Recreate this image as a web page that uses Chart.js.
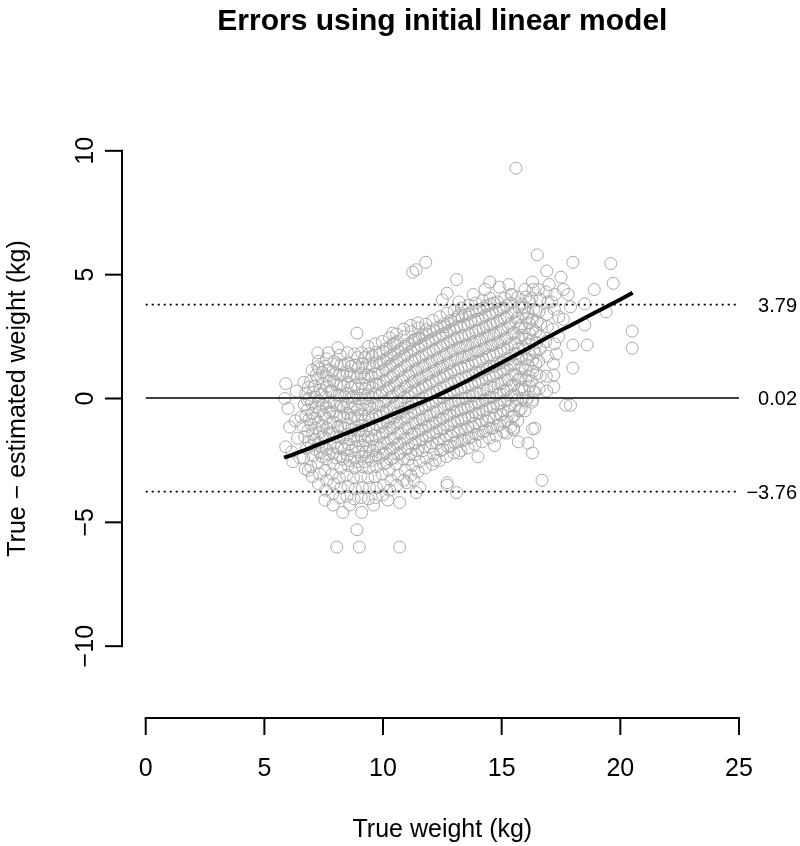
<!DOCTYPE html>
<html><head><meta charset="utf-8">
<script src="https://cdn.jsdelivr.net/npm/chart.js@4.4.1/dist/chart.umd.min.js"></script>
<style>html,body{margin:0;padding:0;background:#fff}canvas{display:block}</style>
</head><body>
<canvas id="c" width="800" height="846"></canvas>
<script>
const titleText = "Errors using initial linear model";
const xLabel = "True weight (kg)";
const yLabel = "True \u2212 estimated weight (kg)";
const xTicks = [0, 5, 10, 15, 20, 25];
const yTicks = [-10, -5, 0, 5, 10];
const refValues = [3.79, 0.02, -3.76];
const refLabels = ["3.79", "0.02", "\u22123.76"];
const refRange = [0, 25];
const loessX = [5.83, 7, 8, 9, 10, 11, 12, 13, 14, 15, 16, 17, 18, 19, 20, 20.52];
const loessY = [-2.39, -1.97, -1.58, -1.2, -0.8, -0.4, 0.0, 0.45, 0.95, 1.45, 1.97, 2.5, 3.0, 3.5, 4.0, 4.27];

// [true weight, error] — body of the cloud
const corePoints = [
[6.72,-2.85],[6.65,-2.4],[6.78,-2.0],[6.7,-1.55],[6.62,-1.1],[6.75,-0.7],[6.68,-0.25],[6.74,0.2],[6.66,0.65],
[7.02,-3.15],[6.96,-2.75],[7.05,-2.3],[6.98,-1.9],[7.04,-1.45],[6.97,-1.05],[7.03,-0.6],[6.99,-0.2],[7.06,0.25],[6.95,0.7],[7.01,1.15],
[7.28,-3.45],[7.33,-3.05],[7.26,-2.6],[7.35,-2.2],[7.29,-1.8],[7.32,-1.35],[7.27,-0.95],[7.34,-0.5],[7.3,-0.1],[7.36,0.35],[7.25,0.8],[7.31,1.2],[7.28,1.5],
[7.58,-3.7],[7.63,-3.3],[7.55,-2.9],[7.62,-2.45],[7.6,-2.05],[7.57,-1.6],[7.64,-1.2],[7.59,-0.8],[7.61,-0.35],[7.56,0.05],[7.65,0.5],[7.6,0.9],[7.57,1.3],[7.62,1.6],
[7.88,-3.85],[7.93,-3.45],[7.86,-3.05],[7.92,-2.65],[7.9,-2.2],[7.95,-1.8],[7.87,-1.4],[7.91,-0.95],[7.89,-0.55],[7.94,-0.15],[7.86,0.3],[7.92,0.7],[7.88,1.1],[7.93,1.5],
[8.18,-4.0],[8.23,-3.6],[8.16,-3.2],[8.22,-2.8],[8.2,-2.35],[8.25,-1.95],[8.17,-1.55],[8.21,-1.1],[8.19,-0.7],[8.24,-0.3],[8.16,0.15],[8.22,0.55],[8.18,0.95],[8.23,1.35],[8.2,1.75],
[8.48,-3.95],[8.53,-3.55],[8.46,-3.1],[8.52,-2.7],[8.5,-2.3],[8.55,-1.85],[8.47,-1.45],[8.51,-1.05],[8.49,-0.6],[8.54,-0.2],[8.46,0.2],[8.52,0.65],[8.48,1.05],[8.53,1.45],[8.5,1.85],
[8.78,-4.05],[8.83,-3.65],[8.76,-3.2],[8.82,-2.8],[8.8,-2.4],[8.85,-1.95],[8.77,-1.55],[8.81,-1.15],[8.79,-0.7],[8.84,-0.3],[8.76,0.1],[8.82,0.55],[8.78,0.95],[8.83,1.35],[8.8,1.8],
[9.08,-4.0],[9.13,-3.6],[9.06,-3.15],[9.12,-2.75],[9.1,-2.35],[9.15,-1.9],[9.07,-1.5],[9.11,-1.1],[9.09,-0.65],[9.14,-0.25],[9.06,0.15],[9.12,0.6],[9.08,1.0],[9.13,1.4],[9.1,1.85],
[9.38,-4.05],[9.43,-3.6],[9.36,-3.2],[9.42,-2.8],[9.4,-2.35],[9.45,-1.95],[9.37,-1.55],[9.41,-1.1],[9.39,-0.7],[9.44,-0.3],[9.36,0.15],[9.42,0.55],[9.38,0.95],[9.43,1.4],[9.4,1.8],[9.37,2.1],
[9.68,-4.0],[9.73,-3.6],[9.66,-3.15],[9.72,-2.75],[9.7,-2.3],[9.75,-1.9],[9.67,-1.5],[9.71,-1.05],[9.69,-0.65],[9.74,-0.25],[9.66,0.2],[9.72,0.6],[9.68,1.0],[9.73,1.45],[9.7,1.85],[9.67,2.2],
[9.98,-3.9],[10.03,-3.5],[9.96,-3.05],[10.02,-2.65],[10.0,-2.25],[10.05,-1.8],[9.97,-1.4],[10.01,-1.0],[9.99,-0.55],[10.04,-0.15],[9.96,0.25],[10.02,0.7],[9.98,1.1],[10.03,1.5],[10.0,1.9],[9.97,2.3],
[10.28,-3.7],[10.33,-3.3],[10.26,-2.9],[10.32,-2.45],[10.3,-2.05],[10.35,-1.65],[10.27,-1.2],[10.31,-0.8],[10.29,-0.4],[10.34,0.05],[10.26,0.45],[10.32,0.85],[10.28,1.3],[10.33,1.7],[10.3,2.1],[10.27,2.45],
[10.58,-3.5],[10.63,-3.1],[10.56,-2.65],[10.62,-2.25],[10.6,-1.85],[10.65,-1.4],[10.57,-1.0],[10.61,-0.6],[10.59,-0.15],[10.64,0.25],[10.56,0.65],[10.62,1.1],[10.58,1.5],[10.63,1.9],[10.6,2.3],[10.57,2.6],
[10.88,-3.3],[10.93,-2.9],[10.86,-2.45],[10.92,-2.05],[10.9,-1.65],[10.95,-1.2],[10.87,-0.8],[10.91,-0.4],[10.89,0.05],[10.94,0.45],[10.86,0.85],[10.92,1.3],[10.88,1.7],[10.93,2.1],[10.9,2.5],[10.87,2.8],
[11.18,-3.1],[11.23,-2.7],[11.16,-2.25],[11.22,-1.85],[11.2,-1.45],[11.25,-1.0],[11.17,-0.6],[11.21,-0.2],[11.19,0.25],[11.24,0.65],[11.16,1.05],[11.22,1.5],[11.18,1.9],[11.23,2.3],[11.2,2.7],[11.17,2.95],
[11.48,-2.95],[11.53,-2.55],[11.46,-2.1],[11.52,-1.7],[11.5,-1.3],[11.55,-0.85],[11.47,-0.45],[11.51,-0.05],[11.49,0.4],[11.54,0.8],[11.46,1.2],[11.52,1.65],[11.48,2.05],[11.53,2.45],[11.5,2.85],[11.47,3.05],
[11.78,-2.8],[11.83,-2.4],[11.76,-1.95],[11.82,-1.55],[11.8,-1.15],[11.85,-0.7],[11.77,-0.3],[11.81,0.1],[11.79,0.55],[11.84,0.95],[11.76,1.35],[11.82,1.8],[11.78,2.2],[11.83,2.6],[11.8,3.0],
[12.08,-2.65],[12.13,-2.25],[12.06,-1.8],[12.12,-1.4],[12.1,-1.0],[12.15,-0.55],[12.07,-0.15],[12.11,0.25],[12.09,0.7],[12.14,1.1],[12.06,1.5],[12.12,1.95],[12.08,2.35],[12.13,2.75],[12.1,3.15],
[12.38,-2.5],[12.43,-2.1],[12.36,-1.65],[12.42,-1.25],[12.4,-0.85],[12.45,-0.4],[12.37,0.0],[12.41,0.4],[12.39,0.85],[12.44,1.25],[12.36,1.65],[12.42,2.1],[12.38,2.5],[12.43,2.9],[12.4,3.3],
[12.68,-2.35],[12.73,-1.95],[12.66,-1.5],[12.72,-1.1],[12.7,-0.7],[12.75,-0.25],[12.67,0.15],[12.71,0.55],[12.69,1.0],[12.74,1.4],[12.66,1.8],[12.72,2.25],[12.68,2.65],[12.73,3.05],[12.7,3.45],
[12.98,-2.2],[13.03,-1.8],[12.96,-1.35],[13.02,-0.95],[13.0,-0.55],[13.05,-0.1],[12.97,0.3],[13.01,0.7],[12.99,1.15],[13.04,1.55],[12.96,1.95],[13.02,2.4],[12.98,2.8],[13.03,3.2],[13.0,3.55],
[13.28,-2.1],[13.33,-1.7],[13.26,-1.25],[13.32,-0.85],[13.3,-0.45],[13.35,0.0],[13.27,0.4],[13.31,0.8],[13.29,1.25],[13.34,1.65],[13.26,2.05],[13.32,2.5],[13.28,2.9],[13.33,3.3],[13.3,3.65],
[13.58,-2.0],[13.63,-1.6],[13.56,-1.15],[13.62,-0.75],[13.6,-0.35],[13.65,0.1],[13.57,0.5],[13.61,0.9],[13.59,1.35],[13.64,1.75],[13.56,2.15],[13.62,2.6],[13.58,3.0],[13.63,3.4],[13.6,3.75],
[13.88,-1.85],[13.93,-1.45],[13.86,-1.0],[13.92,-0.6],[13.9,-0.2],[13.95,0.25],[13.87,0.65],[13.91,1.05],[13.89,1.5],[13.94,1.9],[13.86,2.3],[13.92,2.75],[13.88,3.15],[13.93,3.55],[13.9,3.85],
[14.18,-1.75],[14.23,-1.35],[14.16,-0.9],[14.22,-0.5],[14.2,-0.1],[14.25,0.35],[14.17,0.75],[14.21,1.15],[14.19,1.6],[14.24,2.0],[14.16,2.4],[14.22,2.85],[14.18,3.25],[14.23,3.65],[14.2,3.95],
[14.48,-1.6],[14.53,-1.2],[14.46,-0.75],[14.52,-0.35],[14.5,0.05],[14.55,0.5],[14.47,0.9],[14.51,1.3],[14.49,1.75],[14.54,2.15],[14.46,2.55],[14.52,3.0],[14.48,3.4],[14.53,3.8],[14.5,4.05],
[14.78,-1.5],[14.83,-1.1],[14.76,-0.65],[14.82,-0.25],[14.8,0.15],[14.85,0.6],[14.77,1.0],[14.81,1.4],[14.79,1.85],[14.84,2.25],[14.76,2.65],[14.82,3.1],[14.78,3.5],[14.83,3.9],
[15.08,-1.35],[15.13,-0.95],[15.06,-0.5],[15.12,-0.1],[15.1,0.3],[15.15,0.75],[15.07,1.15],[15.11,1.55],[15.09,2.0],[15.14,2.4],[15.06,2.8],[15.12,3.25],[15.08,3.65],[15.13,4.05],
[15.38,-1.15],[15.43,-0.75],[15.36,-0.3],[15.42,0.1],[15.4,0.5],[15.45,0.95],[15.37,1.35],[15.41,1.75],[15.39,2.2],[15.44,2.6],[15.36,3.0],[15.42,3.45],[15.38,3.85],[15.43,4.2],
[15.68,-0.9],[15.73,-0.5],[15.66,-0.05],[15.72,0.35],[15.7,0.75],[15.75,1.2],[15.67,1.6],[15.71,2.0],[15.69,2.45],[15.74,2.85],[15.66,3.25],[15.72,3.7],[15.68,4.1],
[15.98,-0.5],[16.03,-0.1],[15.96,0.35],[16.02,0.75],[16.0,1.15],[16.05,1.6],[15.97,2.0],[16.01,2.4],[15.99,2.85],[16.04,3.25],[15.96,3.65],[16.02,4.1],[15.98,4.4],
[16.28,-0.15],[16.33,0.3],[16.26,0.7],[16.32,1.1],[16.3,1.55],[16.35,1.95],[16.27,2.35],[16.31,2.8],[16.29,3.2],[16.34,3.6],[16.26,4.05],[16.32,4.4],
[16.58,0.4],[16.63,0.9],[16.56,1.5],[16.62,2.0],[16.6,2.5],[16.65,3.0],[16.57,3.5],[16.61,4.0],[16.55,4.4],
[16.88,0.9],[16.93,1.7],[16.86,2.3],[16.92,2.9],[16.9,3.4],[16.95,3.9],[16.87,4.3],
[17.18,1.4],[17.23,2.2],[17.16,2.8],[17.22,3.6],[17.25,4.2]
];

// inner, densest part of the cloud (second staggered layer)
const densePoints = [
[6.88,-1.75],[6.84,-1.3],[6.87,-0.85],[6.82,-0.45],[6.89,0.0],[6.85,0.45],
[7.14,-2.05],[7.11,-1.65],[7.17,-1.2],[7.13,-0.8],[7.19,-0.35],[7.15,0.05],[7.12,0.5],[7.18,0.95],
[7.44,-2.35],[7.41,-1.95],[7.47,-1.5],[7.43,-1.1],[7.49,-0.65],[7.45,-0.25],[7.42,0.2],[7.48,0.6],[7.44,1.05],
[7.71,-2.25],[7.77,-1.85],[7.73,-1.4],[7.79,-1.0],[7.75,-0.55],[7.72,-0.15],[7.78,0.3],[7.74,0.7],[7.7,1.15],
[8.01,-2.4],[8.07,-2.0],[8.03,-1.55],[8.09,-1.15],[8.05,-0.7],[8.02,-0.3],[8.08,0.15],[8.04,0.55],[8.0,1.0],[8.06,1.4],
[8.31,-2.45],[8.37,-2.05],[8.33,-1.6],[8.39,-1.2],[8.35,-0.75],[8.32,-0.35],[8.38,0.1],[8.34,0.5],[8.3,0.95],[8.36,1.35],
[8.61,-2.5],[8.67,-2.1],[8.63,-1.65],[8.69,-1.25],[8.65,-0.8],[8.62,-0.4],[8.68,0.05],[8.64,0.45],[8.6,0.9],[8.66,1.3],
[8.91,-2.55],[8.97,-2.15],[8.93,-1.7],[8.99,-1.3],[8.95,-0.85],[8.92,-0.45],[8.98,0.0],[8.94,0.4],[8.9,0.85],[8.96,1.25],[8.93,1.65],
[9.21,-2.55],[9.27,-2.15],[9.23,-1.7],[9.29,-1.3],[9.25,-0.85],[9.22,-0.45],[9.28,0.0],[9.24,0.4],[9.2,0.85],[9.26,1.25],[9.23,1.65],
[9.51,-2.5],[9.57,-2.1],[9.53,-1.65],[9.59,-1.25],[9.55,-0.8],[9.52,-0.4],[9.58,0.05],[9.54,0.45],[9.5,0.9],[9.56,1.3],[9.53,1.7],
[9.81,-2.4],[9.87,-2.0],[9.83,-1.55],[9.89,-1.15],[9.85,-0.7],[9.82,-0.3],[9.88,0.15],[9.84,0.55],[9.8,1.0],[9.86,1.4],[9.83,1.8],
[10.14,-2.6],[10.11,-2.2],[10.17,-1.8],[10.13,-1.35],[10.19,-0.95],[10.15,-0.5],[10.12,-0.1],[10.18,0.35],[10.14,0.75],[10.1,1.2],[10.16,1.6],[10.13,2.0],
[10.44,-2.4],[10.41,-2.0],[10.47,-1.6],[10.43,-1.15],[10.49,-0.75],[10.45,-0.3],[10.42,0.1],[10.48,0.55],[10.44,0.95],[10.4,1.4],[10.46,1.8],[10.43,2.2],
[10.74,-2.2],[10.71,-1.8],[10.77,-1.4],[10.73,-0.95],[10.79,-0.55],[10.75,-0.1],[10.72,0.3],[10.78,0.75],[10.74,1.15],[10.7,1.6],[10.76,2.0],
[11.08,-2.45],[11.04,-2.0],[11.01,-1.6],[11.07,-1.2],[11.03,-0.75],[11.09,-0.35],[11.05,0.1],[11.02,0.5],[11.08,0.95],[11.04,1.35],[11.0,1.8],[11.06,2.2],
[11.38,-2.25],[11.34,-1.8],[11.31,-1.4],[11.37,-1.0],[11.33,-0.55],[11.39,-0.15],[11.35,0.3],[11.32,0.7],[11.38,1.15],[11.34,1.55],[11.3,2.0],[11.36,2.4],
[11.68,-2.1],[11.64,-1.65],[11.61,-1.25],[11.67,-0.85],[11.63,-0.4],[11.69,0.0],[11.65,0.45],[11.62,0.85],[11.68,1.3],[11.64,1.7],[11.6,2.15],[11.66,2.55],
[11.98,-1.95],[11.94,-1.5],[11.91,-1.1],[11.97,-0.7],[11.93,-0.25],[11.99,0.15],[11.95,0.6],[11.92,1.0],[11.98,1.45],[11.94,1.85],[11.9,2.3],[11.96,2.7],
[12.28,-1.8],[12.24,-1.35],[12.21,-0.95],[12.27,-0.55],[12.23,-0.1],[12.29,0.3],[12.25,0.75],[12.22,1.15],[12.28,1.6],[12.24,2.0],[12.2,2.45],[12.26,2.85],
[12.52,-2.05],[12.58,-1.65],[12.54,-1.2],[12.51,-0.8],[12.57,-0.4],[12.53,0.05],[12.59,0.45],[12.55,0.9],[12.52,1.3],[12.58,1.75],[12.54,2.15],[12.5,2.6],[12.56,3.0],
[12.82,-1.9],[12.88,-1.5],[12.84,-1.05],[12.81,-0.65],[12.87,-0.25],[12.83,0.2],[12.89,0.6],[12.85,1.05],[12.82,1.45],[12.88,1.9],[12.84,2.3],[12.8,2.75],[12.86,3.15],
[13.12,-1.75],[13.18,-1.35],[13.14,-0.9],[13.11,-0.5],[13.17,-0.1],[13.13,0.35],[13.19,0.75],[13.15,1.2],[13.12,1.6],[13.18,2.05],[13.14,2.45],[13.1,2.9],[13.16,3.3],
[13.42,-1.65],[13.48,-1.25],[13.44,-0.8],[13.41,-0.4],[13.47,0.0],[13.43,0.45],[13.49,0.85],[13.45,1.3],[13.42,1.7],[13.48,2.15],[13.44,2.55],[13.4,3.0],[13.46,3.4],
[13.72,-1.55],[13.78,-1.15],[13.74,-0.7],[13.71,-0.3],[13.77,0.1],[13.73,0.55],[13.79,0.95],[13.75,1.4],[13.72,1.8],[13.78,2.25],[13.74,2.65],[13.7,3.1],[13.76,3.5],
[14.02,-1.45],[14.08,-1.05],[14.04,-0.6],[14.01,-0.2],[14.07,0.2],[14.03,0.65],[14.09,1.05],[14.05,1.5],[14.02,1.9],[14.08,2.35],[14.04,2.75],[14.0,3.2],[14.06,3.6],
[14.32,-1.3],[14.38,-0.9],[14.34,-0.45],[14.31,-0.05],[14.37,0.35],[14.33,0.8],[14.39,1.2],[14.35,1.65],[14.32,2.05],[14.38,2.5],[14.34,2.9],[14.3,3.35],[14.36,3.75],
[14.62,-1.2],[14.68,-0.8],[14.64,-0.35],[14.61,0.05],[14.67,0.45],[14.63,0.9],[14.69,1.3],[14.65,1.75],[14.62,2.15],[14.68,2.6],[14.64,3.0],[14.6,3.45],[14.66,3.85],
[14.92,-1.05],[14.98,-0.65],[14.94,-0.2],[14.91,0.2],[14.97,0.6],[14.93,1.05],[14.99,1.45],[14.95,1.9],[14.92,2.3],[14.98,2.75],[14.94,3.15],[14.9,3.6],
[15.22,-0.9],[15.28,-0.5],[15.24,-0.05],[15.21,0.35],[15.27,0.75],[15.23,1.2],[15.29,1.6],[15.25,2.05],[15.22,2.45],[15.28,2.9],[15.24,3.3],[15.2,3.75],
[15.52,-0.7],[15.58,-0.3],[15.54,0.15],[15.51,0.55],[15.57,0.95],[15.53,1.4],[15.59,1.8],[15.55,2.25],[15.52,2.65],[15.58,3.1],[15.54,3.5],
[15.82,-0.4],[15.88,0.0],[15.84,0.45],[15.81,0.85],[15.87,1.25],[15.83,1.7],[15.89,2.1],[15.85,2.55],[15.82,2.95],[15.88,3.4],[15.84,3.8],
[16.12,0.05],[16.18,0.5],[16.14,0.9],[16.11,1.35],[16.17,1.75],[16.13,2.2],[16.19,2.6],[16.15,3.05],[16.12,3.45],[16.18,3.9],
[16.48,1.0],[16.44,1.4],[16.41,1.85],[16.47,2.25],[16.43,2.7],[16.49,3.1],[16.45,3.55]
];

// sparser points round the edge of the cloud
const edgePoints = [
[5.9,0.6],[5.86,0.0],[6.0,-0.4],[6.07,-1.15],[6.4,-1.6],[5.9,-1.95],[6.15,-2.15],[6.2,-2.55],[6.55,-0.75],[6.8,-0.05],[6.85,-2.9],[6.3,-0.9],[6.35,0.3],[6.5,-2.4],
[7.25,1.84],[7.7,1.84],[7.25,1.28],[8.1,2.05],[8.9,2.64],[10.4,2.64],[10.5,2.24],[11.3,2.36],
[7.55,-4.1],[8.3,-4.6],[9.1,-4.6],[8.9,-5.3],[8.05,-6.0],[9.0,-6.0],[10.7,-6.0],[10.7,-4.2],[11.0,-3.4],[11.55,-3.6],[11.4,-3.8],[12.7,-3.5],[13.1,-3.8],[12.2,-2.5],[11.3,-3.3],[7.9,-4.3],[9.6,-4.3],[10.2,-4.1],[8.6,-4.3],
[11.25,5.1],[11.4,5.2],[11.8,5.5],[13.1,4.8],[12.7,4.25],[12.5,3.98],[13.2,3.9],[13.2,3.37],[11.5,2.44],[11.8,2.77],[12.6,2.9],
[14.3,4.4],[13.8,4.2],[14.9,4.5],[15.3,4.6],[14.5,4.7],
[15.6,9.3],[16.5,5.8],[18.0,5.5],[19.6,5.45],[19.7,4.65],[18.9,4.4],[18.5,3.82],[19.4,3.5],[20.5,2.72],[20.5,2.03],[18.6,2.16],[18.0,2.16],[18.0,1.23],[17.2,0.46],[17.7,-0.27],[17.9,-0.27],[18.5,2.97],[17.5,4.9],[16.9,5.15],[16.7,-3.3],[17.2,0.95],[15.4,4.2],[16.3,4.7],
[16.4,0.26],[16.4,-1.2],[15.5,-1.2],[16.3,-0.06],[16.3,-1.23],[15.5,-1.27],[15.7,-1.75],[16.1,-1.8],[16.3,-2.2],[15.2,-1.4],[14.7,-1.9],[14.0,-2.36],[13.2,-2.2],[12.7,-3.4],
[17.6,3.2],[17.9,3.7],[17.4,2.5],[17.3,1.8],[16.9,0.3],[17.8,4.2],[17.1,3.9],[17.4,3.3],[17.0,4.6],[17.6,4.4]
];

const FONT = '"Liberation Sans", Arial, Helvetica, sans-serif';
const fmt = v => v < 0 ? '\u2212' + Math.abs(v) : String(v);

const rAxes = {
  id: 'rAxes',
  afterDraw(chart) {
    const ctx = chart.ctx, xs = chart.scales.x, ys = chart.scales.y;
    ctx.save();
    ctx.strokeStyle = '#000'; ctx.fillStyle = '#000'; ctx.lineWidth = 2; ctx.lineCap = 'butt';
    const ax = chart.chartArea.left;
    const y0 = ys.getPixelForValue(yTicks[0]), y1 = ys.getPixelForValue(yTicks[yTicks.length - 1]);
    ctx.beginPath(); ctx.moveTo(ax, y0 + 1); ctx.lineTo(ax, y1 - 1); ctx.stroke();
    ctx.font = '25px ' + FONT; ctx.textAlign = 'center'; ctx.textBaseline = 'alphabetic';
    yTicks.forEach(v => {
      const p = ys.getPixelForValue(v);
      ctx.beginPath(); ctx.moveTo(ax, p); ctx.lineTo(ax - 17, p); ctx.stroke();
      ctx.save(); ctx.translate(93, p); ctx.rotate(-Math.PI / 2); ctx.fillText(fmt(v), 0, 0); ctx.restore();
    });
    const ay = chart.chartArea.bottom;
    const x0 = xs.getPixelForValue(xTicks[0]), x1 = xs.getPixelForValue(xTicks[xTicks.length - 1]);
    ctx.beginPath(); ctx.moveTo(x0 - 1, ay); ctx.lineTo(x1 + 1, ay); ctx.stroke();
    xTicks.forEach(v => {
      const p = xs.getPixelForValue(v);
      ctx.beginPath(); ctx.moveTo(p, ay); ctx.lineTo(p, ay + 17); ctx.stroke();
      ctx.fillText(fmt(v), p, 776);
    });
    const cx = (chart.chartArea.left + chart.chartArea.right) / 2;
    const cy = (chart.chartArea.top + chart.chartArea.bottom) / 2;
    ctx.fillText(xLabel, cx, 837);
    ctx.save(); ctx.translate(25, cy); ctx.rotate(-Math.PI / 2); ctx.fillText(yLabel, 0, 0); ctx.restore();
    ctx.font = 'bold 30px ' + FONT;
    ctx.fillText(titleText, cx, 30);
    ctx.font = '20px ' + FONT; ctx.textAlign = 'right';
    refValues.forEach((v, i) => {
      ctx.fillText(refLabels[i], 797, ys.getPixelForValue(v) + 7);
    });
    ctx.restore();
  }
};

const refDatasets = refValues.map((v, i) => ({
  data: refRange.map(x => ({x: x, y: v})),
  showLine: true, pointRadius: 0, borderColor: '#000',
  borderWidth: i === 1 ? 1.6 : 1.8,
  borderDash: i === 1 ? [] : [2, 4],
  order: 2
}));

new Chart(document.getElementById('c'), {
  type: 'scatter',
  data: {
    datasets: [
      {
        data: loessX.map((x, i) => ({x: x, y: loessY[i]})),
        showLine: true, pointRadius: 0, borderColor: '#000', borderWidth: 4,
        cubicInterpolationMode: 'monotone', order: 1
      },
      ...refDatasets,
      {
        data: corePoints.concat(densePoints, edgePoints).map(p => ({x: p[0], y: p[1]})),
        pointRadius: 6, pointStyle: 'circle', pointBorderColor: '#aaaaaa',
        pointBackgroundColor: 'rgba(0,0,0,0)', pointBorderWidth: 1, order: 3
      }
    ]
  },
  options: {
    responsive: false, animation: false, devicePixelRatio: 1,
    layout: {padding: {left: 122, right: 37.3, top: 79, bottom: 128}},
    plugins: {legend: {display: false}, tooltip: {enabled: false}, title: {display: false}},
    scales: {
      x: {type: 'linear', min: -1, max: 26, display: false},
      y: {type: 'linear', min: -12.9, max: 12.9, display: false}
    },
    elements: {line: {tension: 0}}
  },
  plugins: [rAxes]
});
</script>
</body></html>
